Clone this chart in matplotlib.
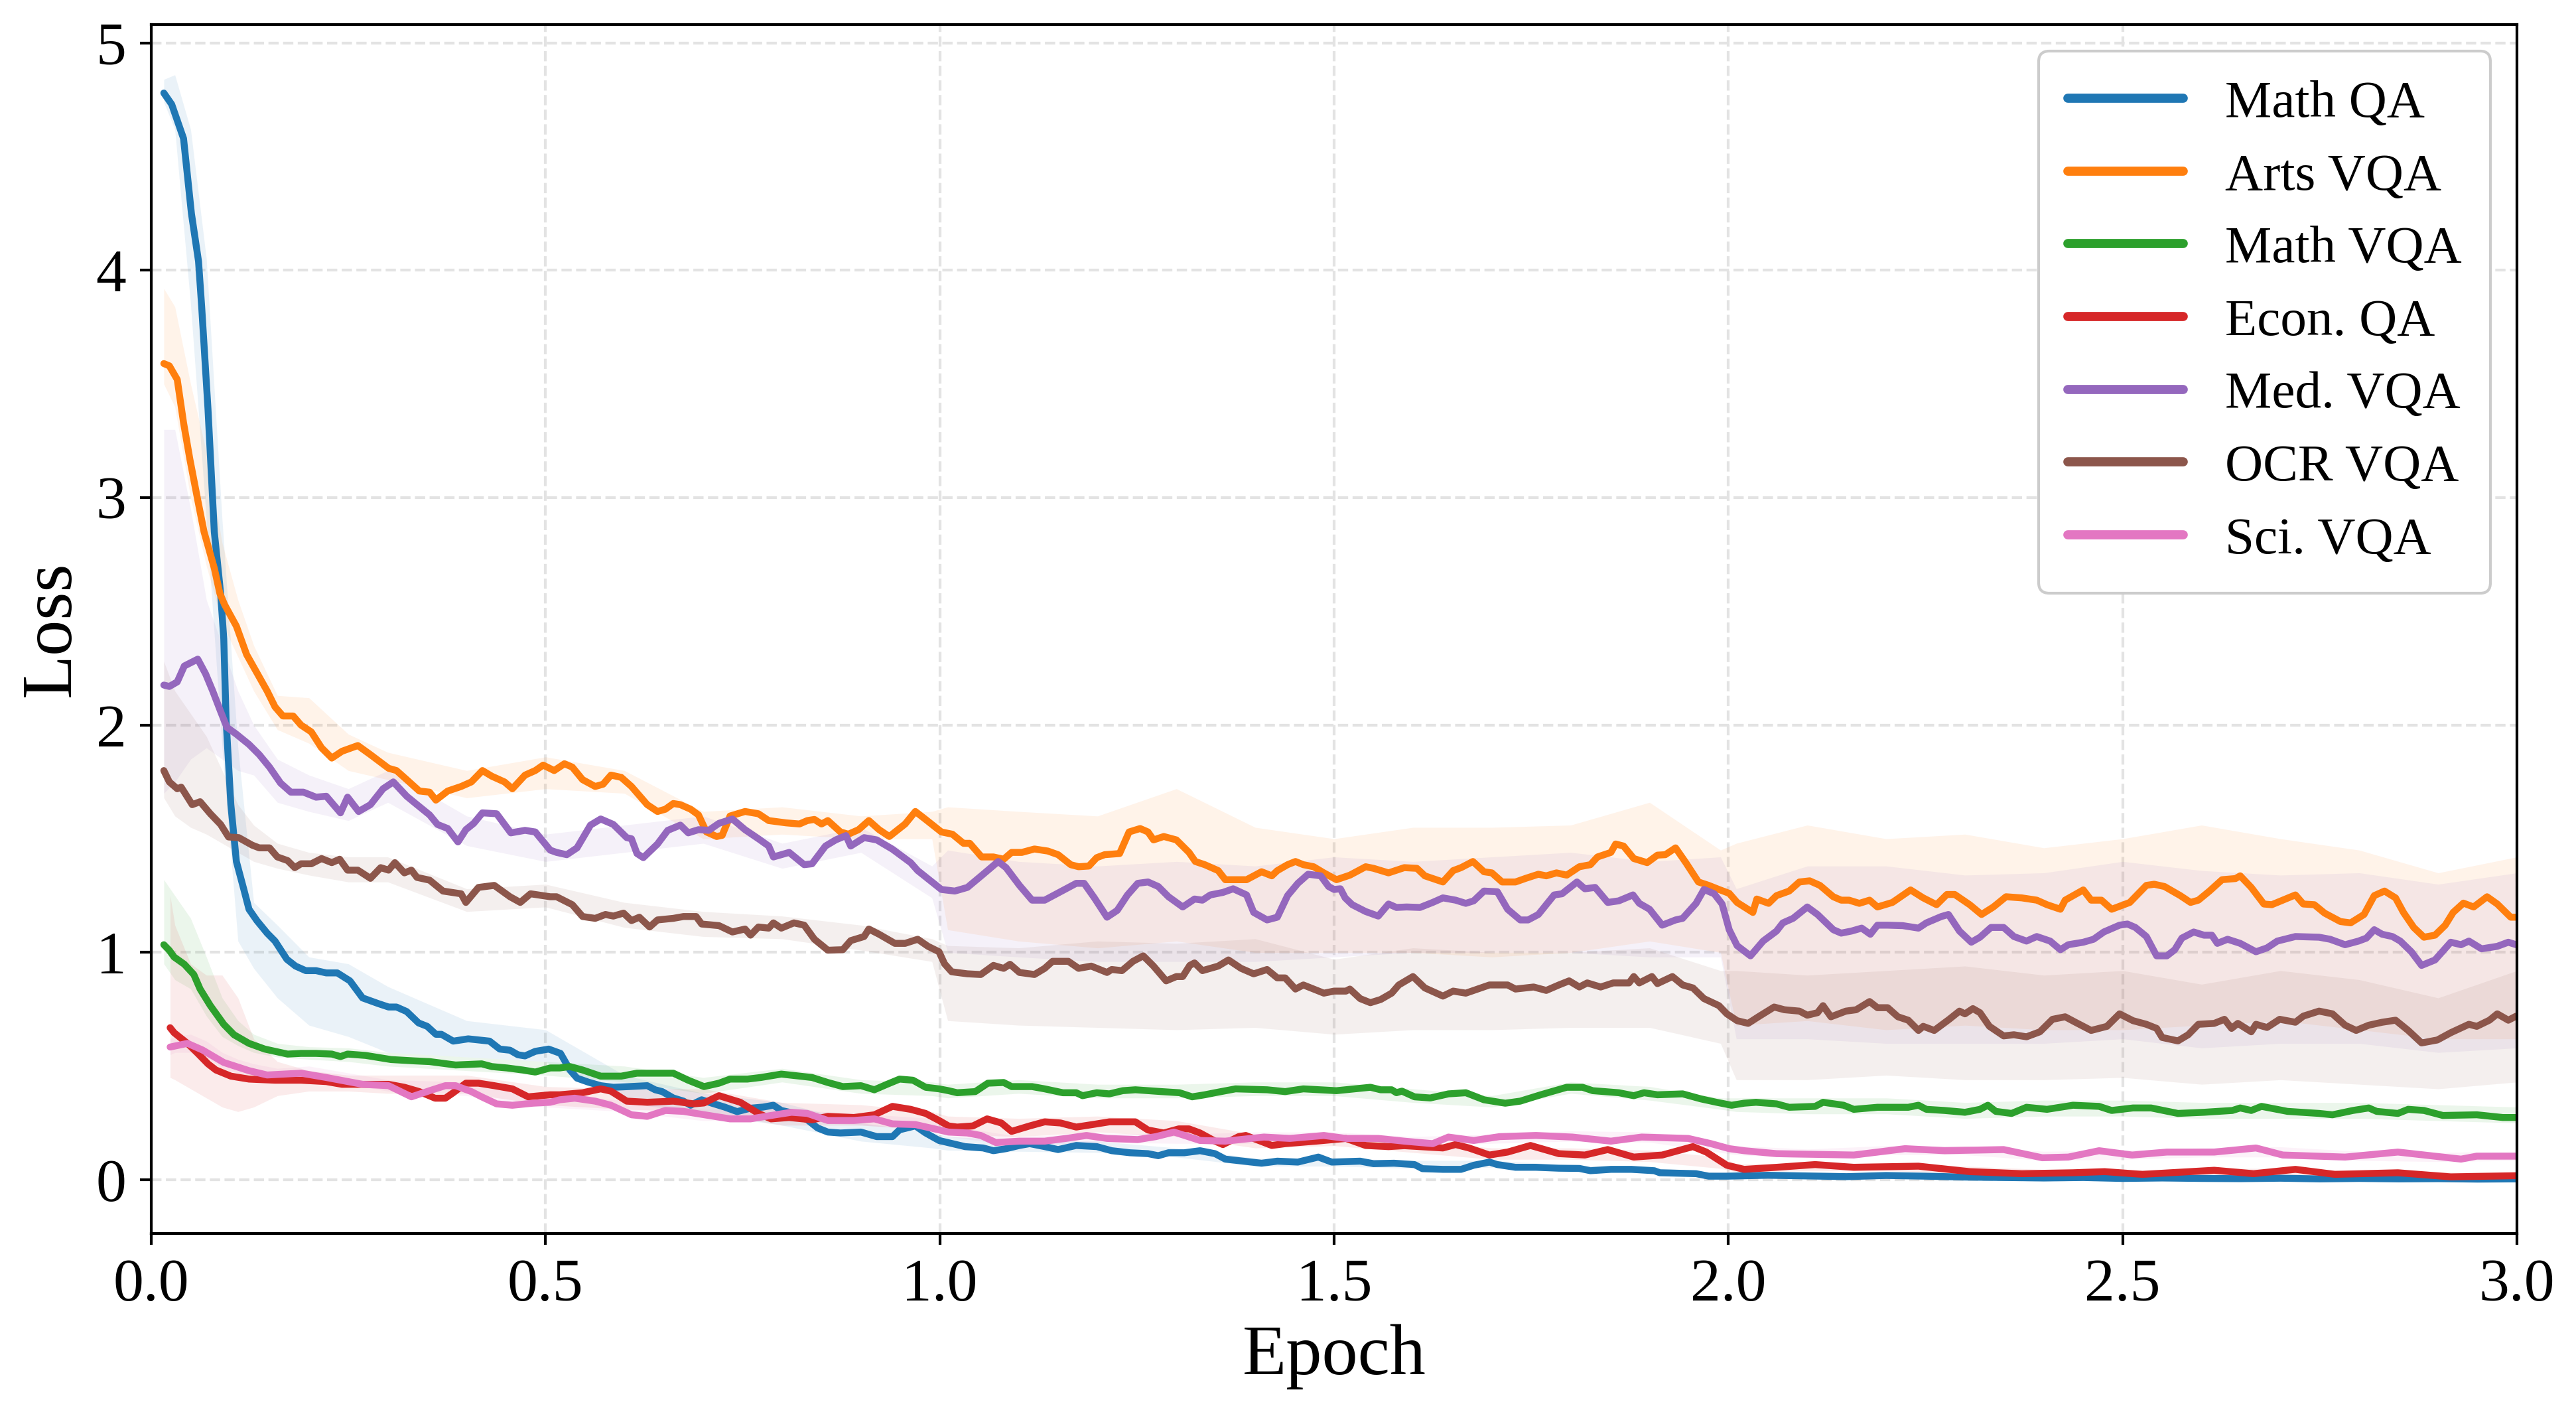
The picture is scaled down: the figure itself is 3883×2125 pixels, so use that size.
import matplotlib.pyplot as plt

plt.rcParams['font.family'] = 'serif'
plt.rcParams['font.serif'] = ['Liberation Serif', 'DejaVu Serif']

# (epoch, loss) points
math_qa = [(0.016, 4.78), (0.026, 4.73), (0.041, 4.58), (0.051, 4.25), (0.060, 4.04), (0.064, 3.84), (0.072, 3.39),
           (0.080, 2.85), (0.088, 2.58), (0.092, 2.38), (0.095, 2.02), (0.101, 1.65), (0.108, 1.40), (0.118, 1.27),
           (0.124, 1.19), (0.134, 1.14), (0.147, 1.085), (0.157, 1.05), (0.172, 0.97), (0.183, 0.94), (0.196, 0.92),
           (0.209, 0.92), (0.222, 0.91), (0.236, 0.91), (0.252, 0.875), (0.268, 0.80), (0.288, 0.775), (0.301, 0.76),
           (0.311, 0.76), (0.324, 0.74), (0.339, 0.69), (0.350, 0.675), (0.361, 0.64), (0.368, 0.64), (0.383, 0.61),
           (0.402, 0.62), (0.429, 0.61), (0.442, 0.575), (0.455, 0.57), (0.465, 0.55), (0.474, 0.545), (0.487, 0.565),
           (0.504, 0.575), (0.519, 0.556), (0.531, 0.483), (0.540, 0.447), (0.554, 0.43), (0.570, 0.414),
           (0.586, 0.407), (0.606, 0.41), (0.629, 0.414), (0.639, 0.396), (0.648, 0.388), (0.662, 0.36),
           (0.675, 0.346), (0.684, 0.328), (0.698, 0.352), (0.711, 0.337), (0.727, 0.32), (0.743, 0.30),
           (0.760, 0.315), (0.776, 0.32), (0.789, 0.328), (0.799, 0.305), (0.812, 0.295), (0.832, 0.264),
           (0.845, 0.228), (0.858, 0.21), (0.874, 0.206), (0.900, 0.21), (0.920, 0.19), (0.940, 0.19), (0.949, 0.22),
           (0.969, 0.237), (0.982, 0.206), (0.999, 0.173), (1.016, 0.159), (1.032, 0.146), (1.055, 0.14),
           (1.068, 0.128), (1.084, 0.137), (1.101, 0.151), (1.114, 0.159), (1.133, 0.146), (1.150, 0.133),
           (1.173, 0.151), (1.199, 0.146), (1.218, 0.128), (1.241, 0.119), (1.264, 0.115), (1.277, 0.106),
           (1.290, 0.119), (1.310, 0.119), (1.330, 0.128), (1.349, 0.115), (1.362, 0.091), (1.385, 0.082),
           (1.408, 0.073), (1.428, 0.082), (1.454, 0.078), (1.480, 0.10), (1.497, 0.078), (1.533, 0.082),
           (1.550, 0.071), (1.576, 0.073), (1.602, 0.067), (1.612, 0.049), (1.638, 0.046), (1.661, 0.046),
           (1.677, 0.064), (1.697, 0.078), (1.707, 0.067), (1.730, 0.055), (1.756, 0.055), (1.785, 0.051),
           (1.811, 0.05), (1.825, 0.04), (1.851, 0.046), (1.877, 0.046), (1.906, 0.04), (1.913, 0.031),
           (1.959, 0.027), (1.975, 0.016), (1.998, 0.016), (2.05, 0.02), (2.1, 0.017), (2.15, 0.014), (2.2, 0.019),
           (2.25, 0.016), (2.3, 0.012), (2.35, 0.01), (2.4, 0.008), (2.45, 0.01), (2.5, 0.006), (2.55, 0.008),
           (2.6, 0.006), (2.65, 0.005), (2.7, 0.007), (2.75, 0.004), (2.8, 0.006), (2.85, 0.004), (2.9, 0.005),
           (2.95, 0.003), (3.0, 0.004)]

arts_vqa = [(0.016, 3.59), (0.023, 3.58), (0.033, 3.52), (0.041, 3.33), (0.049, 3.17), (0.059, 2.99), (0.067, 2.85),
            (0.080, 2.69), (0.087, 2.58), (0.093, 2.53), (0.108, 2.435), (0.121, 2.31), (0.134, 2.23), (0.147, 2.15),
            (0.157, 2.08), (0.167, 2.04), (0.180, 2.04), (0.190, 2.0), (0.203, 1.97), (0.216, 1.90), (0.229, 1.855),
            (0.242, 1.885), (0.262, 1.91), (0.278, 1.87), (0.301, 1.81), (0.311, 1.80), (0.324, 1.76), (0.340, 1.71),
            (0.353, 1.705), (0.361, 1.67), (0.376, 1.71), (0.393, 1.73), (0.406, 1.75), (0.420, 1.80),
            (0.432, 1.775), (0.448, 1.75), (0.458, 1.72), (0.474, 1.78), (0.487, 1.80), (0.497, 1.824),
            (0.511, 1.80), (0.524, 1.83), (0.534, 1.815), (0.547, 1.76), (0.563, 1.73), (0.573, 1.74), (0.583, 1.78),
            (0.596, 1.77), (0.609, 1.73), (0.629, 1.65), (0.642, 1.62), (0.652, 1.63), (0.662, 1.655), (0.671, 1.65),
            (0.684, 1.63), (0.694, 1.605), (0.704, 1.53), (0.717, 1.51), (0.724, 1.515), (0.734, 1.60), (0.753, 1.62),
            (0.770, 1.61), (0.783, 1.58), (0.805, 1.57), (0.822, 1.565), (0.832, 1.58), (0.841, 1.585),
            (0.850, 1.565), (0.858, 1.58), (0.874, 1.53), (0.884, 1.52), (0.897, 1.54), (0.910, 1.58), (0.923, 1.54),
            (0.936, 1.51), (0.956, 1.565), (0.969, 1.62), (0.982, 1.585), (1.002, 1.53), (1.016, 1.52),
            (1.030, 1.48), (1.038, 1.48), (1.053, 1.42), (1.068, 1.42), (1.081, 1.41), (1.091, 1.44), (1.104, 1.44),
            (1.120, 1.455), (1.137, 1.446), (1.150, 1.43), (1.166, 1.386), (1.176, 1.377), (1.189, 1.38),
            (1.199, 1.417), (1.209, 1.43), (1.228, 1.435), (1.240, 1.53), (1.254, 1.545), (1.264, 1.53),
            (1.271, 1.495), (1.284, 1.51), (1.300, 1.495), (1.316, 1.44), (1.324, 1.40), (1.336, 1.386),
            (1.353, 1.36), (1.362, 1.32), (1.389, 1.32), (1.408, 1.355), (1.421, 1.337), (1.428, 1.36),
            (1.441, 1.386), (1.451, 1.40), (1.461, 1.386), (1.474, 1.377), (1.487, 1.35), (1.503, 1.32),
            (1.520, 1.34), (1.540, 1.377), (1.550, 1.37), (1.569, 1.35), (1.589, 1.373), (1.605, 1.37),
            (1.615, 1.337), (1.638, 1.31), (1.651, 1.36), (1.661, 1.373), (1.676, 1.40), (1.690, 1.355),
            (1.700, 1.35), (1.713, 1.31), (1.730, 1.31), (1.743, 1.326), (1.759, 1.344), (1.769, 1.337),
            (1.782, 1.35), (1.795, 1.34), (1.811, 1.377), (1.825, 1.386), (1.834, 1.42), (1.851, 1.44),
            (1.857, 1.477), (1.867, 1.468), (1.880, 1.413), (1.897, 1.395), (1.910, 1.428), (1.920, 1.43),
            (1.933, 1.46), (1.946, 1.395), (1.962, 1.31), (1.975, 1.295), (1.988, 1.277), (2.001, 1.26),
            (2.011, 1.22), (2.031, 1.176), (2.036, 1.235), (2.051, 1.216), (2.061, 1.25), (2.077, 1.27),
            (2.090, 1.31), (2.103, 1.315), (2.116, 1.295), (2.133, 1.245), (2.143, 1.23), (2.153, 1.23),
            (2.166, 1.216), (2.179, 1.23), (2.189, 1.20), (2.208, 1.22), (2.231, 1.275), (2.247, 1.24),
            (2.264, 1.21), (2.277, 1.255), (2.287, 1.255), (2.306, 1.21), (2.321, 1.167), (2.336, 1.20),
            (2.352, 1.245), (2.372, 1.24), (2.391, 1.23), (2.404, 1.21), (2.421, 1.19), (2.427, 1.23),
            (2.450, 1.275), (2.460, 1.23), (2.473, 1.23), (2.486, 1.19), (2.509, 1.22), (2.530, 1.295),
            (2.540, 1.30), (2.553, 1.29), (2.573, 1.25), (2.586, 1.22), (2.596, 1.23), (2.610, 1.27), (2.626, 1.32),
            (2.643, 1.325), (2.649, 1.337), (2.663, 1.286), (2.679, 1.213), (2.689, 1.21), (2.703, 1.23),
            (2.719, 1.253), (2.729, 1.213), (2.743, 1.21), (2.756, 1.173), (2.776, 1.136), (2.789, 1.13),
            (2.806, 1.167), (2.819, 1.25), (2.832, 1.27), (2.846, 1.24), (2.856, 1.176), (2.869, 1.11),
            (2.882, 1.067), (2.896, 1.076), (2.909, 1.12), (2.919, 1.176), (2.932, 1.217), (2.945, 1.20),
            (2.962, 1.245), (2.975, 1.213), (2.992, 1.155), (2.999, 1.155)]

math_vqa = [(0.016, 1.034), (0.023, 1.009), (0.029, 0.98), (0.042, 0.948), (0.054, 0.903), (0.062, 0.839),
            (0.075, 0.766), (0.092, 0.684), (0.105, 0.638), (0.124, 0.60), (0.144, 0.575), (0.157, 0.565),
            (0.173, 0.553), (0.190, 0.556), (0.209, 0.556), (0.229, 0.553), (0.240, 0.542), (0.249, 0.553),
            (0.272, 0.547), (0.288, 0.538), (0.304, 0.529), (0.334, 0.523), (0.353, 0.52), (0.386, 0.505),
            (0.419, 0.51), (0.432, 0.498), (0.451, 0.492), (0.471, 0.483), (0.487, 0.474), (0.506, 0.492),
            (0.518, 0.492), (0.531, 0.498), (0.547, 0.483), (0.570, 0.456), (0.596, 0.456), (0.616, 0.469),
            (0.635, 0.469), (0.662, 0.469), (0.681, 0.438), (0.701, 0.41), (0.720, 0.425), (0.734, 0.443),
            (0.756, 0.443), (0.773, 0.45), (0.799, 0.465), (0.838, 0.45), (0.858, 0.428), (0.877, 0.41),
            (0.900, 0.414), (0.917, 0.396), (0.933, 0.42), (0.949, 0.443), (0.966, 0.438), (0.982, 0.407),
            (0.999, 0.40), (1.011, 0.392), (1.022, 0.383), (1.045, 0.388), (1.061, 0.425), (1.081, 0.428),
            (1.091, 0.41), (1.117, 0.41), (1.133, 0.40), (1.156, 0.383), (1.173, 0.383), (1.181, 0.37),
            (1.199, 0.383), (1.215, 0.378), (1.232, 0.392), (1.248, 0.396), (1.281, 0.388), (1.304, 0.383),
            (1.320, 0.365), (1.336, 0.374), (1.349, 0.383), (1.375, 0.40), (1.415, 0.396), (1.438, 0.388),
            (1.461, 0.40), (1.503, 0.392), (1.546, 0.407), (1.559, 0.396), (1.573, 0.396), (1.579, 0.383),
            (1.586, 0.39), (1.602, 0.365), (1.622, 0.36), (1.645, 0.378), (1.667, 0.383), (1.690, 0.352),
            (1.717, 0.337), (1.736, 0.346), (1.762, 0.374), (1.795, 0.407), (1.815, 0.407), (1.828, 0.392),
            (1.861, 0.383), (1.880, 0.37), (1.893, 0.383), (1.910, 0.374), (1.942, 0.378), (1.965, 0.356),
            (1.985, 0.341), (2.004, 0.328), (2.020, 0.337), (2.035, 0.341), (2.061, 0.334), (2.077, 0.319),
            (2.110, 0.323), (2.120, 0.341), (2.146, 0.328), (2.159, 0.31), (2.189, 0.319), (2.228, 0.319),
            (2.241, 0.328), (2.251, 0.31), (2.274, 0.305), (2.300, 0.297), (2.319, 0.31), (2.329, 0.328),
            (2.339, 0.301), (2.359, 0.292), (2.378, 0.319), (2.404, 0.31), (2.437, 0.328), (2.470, 0.323),
            (2.486, 0.305), (2.513, 0.316), (2.536, 0.316), (2.570, 0.292), (2.603, 0.297), (2.639, 0.305),
            (2.649, 0.316), (2.663, 0.305), (2.676, 0.323), (2.709, 0.301), (2.749, 0.292), (2.766, 0.286),
            (2.792, 0.305), (2.812, 0.316), (2.822, 0.301), (2.849, 0.292), (2.862, 0.31), (2.882, 0.305),
            (2.906, 0.283), (2.949, 0.286), (2.982, 0.274), (2.999, 0.274)]

econ_qa = [(0.024, 0.669), (0.029, 0.647), (0.046, 0.60), (0.059, 0.556), (0.072, 0.51), (0.082, 0.483),
           (0.101, 0.456), (0.124, 0.443), (0.157, 0.438), (0.190, 0.438), (0.222, 0.432), (0.242, 0.42),
           (0.272, 0.42), (0.301, 0.42), (0.321, 0.407), (0.340, 0.388), (0.360, 0.359), (0.373, 0.359),
           (0.383, 0.383), (0.399, 0.425), (0.415, 0.425), (0.435, 0.414), (0.458, 0.40), (0.478, 0.365),
           (0.506, 0.374), (0.518, 0.374), (0.547, 0.383), (0.570, 0.40), (0.583, 0.39), (0.603, 0.346),
           (0.629, 0.341), (0.662, 0.346), (0.688, 0.334), (0.701, 0.338), (0.720, 0.37), (0.747, 0.341),
           (0.770, 0.292), (0.786, 0.268), (0.809, 0.274), (0.838, 0.264), (0.858, 0.279), (0.891, 0.274),
           (0.917, 0.286), (0.940, 0.323), (0.963, 0.31), (0.982, 0.292), (0.999, 0.261), (1.011, 0.237),
           (1.022, 0.232), (1.042, 0.237), (1.060, 0.268), (1.078, 0.25), (1.091, 0.213), (1.114, 0.237),
           (1.133, 0.255), (1.153, 0.25), (1.173, 0.232), (1.199, 0.246), (1.215, 0.255), (1.248, 0.255),
           (1.264, 0.219), (1.284, 0.206), (1.303, 0.224), (1.316, 0.224), (1.330, 0.206), (1.349, 0.17),
           (1.359, 0.155), (1.379, 0.19), (1.388, 0.195), (1.421, 0.151), (1.438, 0.159), (1.477, 0.17),
           (1.515, 0.182), (1.540, 0.151), (1.569, 0.146), (1.589, 0.15), (1.638, 0.14), (1.654, 0.155),
           (1.671, 0.14), (1.697, 0.109), (1.720, 0.122), (1.749, 0.151), (1.785, 0.115), (1.818, 0.109),
           (1.847, 0.133), (1.880, 0.10), (1.916, 0.109), (1.955, 0.146), (1.972, 0.122), (1.998, 0.064),
           (2.020, 0.046), (2.061, 0.055), (2.110, 0.067), (2.159, 0.055), (2.241, 0.06), (2.306, 0.036),
           (2.372, 0.027), (2.437, 0.031), (2.477, 0.036), (2.525, 0.024), (2.616, 0.042), (2.666, 0.027),
           (2.719, 0.046), (2.769, 0.024), (2.849, 0.031), (2.916, 0.013), (2.999, 0.018)]

med_vqa = [(0.016, 2.176), (0.023, 2.17), (0.033, 2.19), (0.042, 2.26), (0.059, 2.29), (0.069, 2.225), (0.078, 2.15),
           (0.088, 2.06), (0.096, 1.99), (0.108, 1.96), (0.124, 1.915), (0.137, 1.87), (0.150, 1.815),
           (0.164, 1.745), (0.177, 1.705), (0.193, 1.705), (0.209, 1.683), (0.222, 1.687), (0.240, 1.614),
           (0.249, 1.683), (0.263, 1.62), (0.278, 1.65), (0.294, 1.72), (0.307, 1.75), (0.324, 1.687),
           (0.337, 1.65), (0.353, 1.605), (0.363, 1.563), (0.376, 1.545), (0.389, 1.486), (0.399, 1.54),
           (0.409, 1.568), (0.420, 1.614), (0.438, 1.61), (0.456, 1.526), (0.474, 1.537), (0.487, 1.53),
           (0.506, 1.45), (0.514, 1.44), (0.527, 1.43), (0.540, 1.46), (0.557, 1.56), (0.570, 1.587),
           (0.586, 1.563), (0.603, 1.505), (0.609, 1.50), (0.616, 1.435), (0.624, 1.417), (0.642, 1.477),
           (0.655, 1.537), (0.671, 1.56), (0.681, 1.526), (0.694, 1.54), (0.707, 1.537), (0.720, 1.568),
           (0.737, 1.587), (0.753, 1.54), (0.770, 1.50), (0.783, 1.468), (0.789, 1.42), (0.809, 1.44),
           (0.828, 1.386), (0.838, 1.39), (0.855, 1.468), (0.868, 1.495), (0.881, 1.514), (0.887, 1.468),
           (0.904, 1.505), (0.920, 1.495), (0.940, 1.454), (0.963, 1.395), (0.972, 1.36), (0.989, 1.313),
           (1.002, 1.277), (1.019, 1.27), (1.035, 1.286), (1.055, 1.344), (1.074, 1.40), (1.084, 1.373),
           (1.101, 1.295), (1.117, 1.23), (1.133, 1.23), (1.153, 1.267), (1.173, 1.304), (1.183, 1.304),
           (1.196, 1.24), (1.212, 1.155), (1.225, 1.185), (1.238, 1.253), (1.251, 1.304), (1.264, 1.31),
           (1.277, 1.29), (1.290, 1.245), (1.308, 1.20), (1.323, 1.235), (1.333, 1.23), (1.343, 1.253),
           (1.359, 1.264), (1.372, 1.28), (1.389, 1.253), (1.398, 1.176), (1.415, 1.143), (1.428, 1.155),
           (1.441, 1.25), (1.454, 1.304), (1.467, 1.344), (1.483, 1.337), (1.493, 1.29), (1.500, 1.277),
           (1.508, 1.28), (1.514, 1.24), (1.523, 1.21), (1.540, 1.18), (1.556, 1.16), (1.569, 1.213),
           (1.579, 1.198), (1.592, 1.20), (1.609, 1.198), (1.625, 1.22), (1.638, 1.24), (1.654, 1.23),
           (1.667, 1.216), (1.677, 1.227), (1.690, 1.27), (1.707, 1.267), (1.720, 1.19), (1.736, 1.143),
           (1.746, 1.143), (1.759, 1.167), (1.779, 1.253), (1.789, 1.258), (1.808, 1.31), (1.818, 1.28),
           (1.831, 1.286), (1.847, 1.22), (1.861, 1.227), (1.879, 1.253), (1.887, 1.216), (1.900, 1.19),
           (1.916, 1.12), (1.933, 1.143), (1.942, 1.15), (1.959, 1.216), (1.969, 1.277), (1.982, 1.258),
           (1.992, 1.213), (2.001, 1.10), (2.011, 1.03), (2.028, 0.985), (2.044, 1.05), (2.061, 1.094),
           (2.069, 1.13), (2.082, 1.15), (2.100, 1.20), (2.113, 1.167), (2.133, 1.10), (2.143, 1.085),
           (2.156, 1.094), (2.169, 1.107), (2.180, 1.08), (2.189, 1.12), (2.202, 1.12), (2.221, 1.118),
           (2.241, 1.107), (2.251, 1.13), (2.270, 1.158), (2.279, 1.167), (2.293, 1.094), (2.308, 1.045),
           (2.319, 1.067), (2.333, 1.11), (2.349, 1.11), (2.362, 1.07), (2.378, 1.05), (2.391, 1.07),
           (2.408, 1.05), (2.421, 1.012), (2.431, 1.034), (2.450, 1.045), (2.463, 1.058), (2.476, 1.09),
           (2.496, 1.12), (2.506, 1.125), (2.516, 1.11), (2.530, 1.07), (2.543, 0.985), (2.556, 0.985),
           (2.566, 1.012), (2.575, 1.063), (2.590, 1.09), (2.603, 1.076), (2.613, 1.076), (2.620, 1.04),
           (2.633, 1.058), (2.649, 1.04), (2.669, 1.003), (2.683, 1.02), (2.696, 1.05), (2.719, 1.07),
           (2.749, 1.067), (2.763, 1.058), (2.782, 1.034), (2.799, 1.05), (2.809, 1.063), (2.819, 1.10),
           (2.829, 1.08), (2.842, 1.07), (2.852, 1.05), (2.866, 1.003), (2.879, 0.943), (2.896, 0.967),
           (2.916, 1.045), (2.929, 1.034), (2.939, 1.05), (2.955, 1.016), (2.975, 1.027), (2.989, 1.045),
           (2.999, 1.034)]

ocr_vqa = [(0.016, 1.80), (0.023, 1.75), (0.033, 1.72), (0.038, 1.727), (0.052, 1.65), (0.062, 1.663), (0.075, 1.61),
           (0.088, 1.563), (0.098, 1.508), (0.111, 1.505), (0.128, 1.472), (0.137, 1.46), (0.150, 1.46),
           (0.160, 1.42), (0.173, 1.404), (0.182, 1.373), (0.190, 1.39), (0.203, 1.39), (0.216, 1.413),
           (0.229, 1.395), (0.239, 1.41), (0.249, 1.362), (0.262, 1.362), (0.278, 1.326), (0.291, 1.373),
           (0.301, 1.362), (0.309, 1.395), (0.321, 1.35), (0.330, 1.362), (0.337, 1.33), (0.353, 1.318),
           (0.370, 1.27), (0.393, 1.258), (0.399, 1.22), (0.415, 1.286), (0.435, 1.295), (0.455, 1.245),
           (0.468, 1.22), (0.481, 1.258), (0.506, 1.245), (0.514, 1.245), (0.534, 1.21), (0.547, 1.158),
           (0.563, 1.15), (0.576, 1.167), (0.586, 1.16), (0.599, 1.173), (0.609, 1.14), (0.619, 1.155),
           (0.632, 1.112), (0.642, 1.143), (0.662, 1.15), (0.675, 1.158), (0.691, 1.158), (0.698, 1.125),
           (0.720, 1.118), (0.737, 1.09), (0.753, 1.103), (0.760, 1.076), (0.770, 1.112), (0.783, 1.107),
           (0.789, 1.13), (0.799, 1.107), (0.815, 1.13), (0.828, 1.12), (0.841, 1.058), (0.858, 1.01),
           (0.877, 1.012), (0.887, 1.052), (0.904, 1.07), (0.910, 1.103), (0.923, 1.08), (0.943, 1.04),
           (0.956, 1.04), (0.972, 1.058), (0.985, 1.027), (0.999, 1.003), (1.006, 0.95), (1.015, 0.915),
           (1.035, 0.906), (1.052, 0.903), (1.068, 0.943), (1.081, 0.93), (1.089, 0.948), (1.101, 0.912),
           (1.120, 0.903), (1.133, 0.93), (1.143, 0.961), (1.163, 0.961), (1.176, 0.93), (1.192, 0.94),
           (1.212, 0.912), (1.218, 0.925), (1.231, 0.92), (1.245, 0.961), (1.258, 0.985), (1.271, 0.94),
           (1.287, 0.875), (1.300, 0.894), (1.308, 0.894), (1.317, 0.943), (1.323, 0.954), (1.333, 0.92),
           (1.353, 0.94), (1.366, 0.967), (1.382, 0.93), (1.398, 0.906), (1.415, 0.925), (1.428, 0.888),
           (1.438, 0.888), (1.451, 0.839), (1.461, 0.857), (1.474, 0.839), (1.487, 0.821), (1.500, 0.83),
           (1.515, 0.83), (1.520, 0.839), (1.533, 0.797), (1.546, 0.779), (1.559, 0.793), (1.573, 0.821),
           (1.582, 0.857), (1.600, 0.894), (1.615, 0.844), (1.638, 0.808), (1.651, 0.83), (1.667, 0.821),
           (1.677, 0.833), (1.697, 0.857), (1.720, 0.857), (1.730, 0.839), (1.753, 0.848), (1.769, 0.833),
           (1.785, 0.857), (1.798, 0.875), (1.811, 0.848), (1.821, 0.866), (1.838, 0.848), (1.854, 0.866),
           (1.874, 0.866), (1.880, 0.894), (1.887, 0.866), (1.903, 0.894), (1.910, 0.863), (1.929, 0.894),
           (1.942, 0.857), (1.955, 0.844), (1.969, 0.797), (1.988, 0.766), (1.998, 0.73), (2.011, 0.70),
           (2.025, 0.688), (2.038, 0.717), (2.058, 0.76), (2.071, 0.748), (2.090, 0.742), (2.100, 0.724),
           (2.113, 0.735), (2.120, 0.766), (2.130, 0.717), (2.149, 0.742), (2.162, 0.748), (2.179, 0.784),
           (2.189, 0.757), (2.202, 0.757), (2.215, 0.717), (2.228, 0.702), (2.241, 0.657), (2.247, 0.675),
           (2.261, 0.657), (2.280, 0.706), (2.293, 0.742), (2.300, 0.73), (2.310, 0.753), (2.319, 0.735),
           (2.331, 0.675), (2.349, 0.633), (2.362, 0.638), (2.378, 0.629), (2.395, 0.651), (2.411, 0.706),
           (2.427, 0.717), (2.440, 0.693), (2.460, 0.657), (2.480, 0.675), (2.496, 0.73), (2.513, 0.70),
           (2.530, 0.684), (2.543, 0.666), (2.550, 0.626), (2.570, 0.611), (2.583, 0.638), (2.596, 0.684),
           (2.616, 0.688), (2.629, 0.706), (2.638, 0.666), (2.646, 0.688), (2.663, 0.651), (2.669, 0.684),
           (2.683, 0.67), (2.699, 0.706), (2.719, 0.693), (2.729, 0.72), (2.749, 0.742), (2.766, 0.73),
           (2.782, 0.68), (2.796, 0.657), (2.812, 0.68), (2.829, 0.693), (2.846, 0.702), (2.862, 0.657),
           (2.879, 0.602), (2.899, 0.615), (2.916, 0.647), (2.939, 0.684), (2.949, 0.675), (2.965, 0.702),
           (2.975, 0.73), (2.989, 0.702), (2.999, 0.72)]

sci_vqa = [(0.024, 0.584), (0.046, 0.60), (0.065, 0.571), (0.092, 0.516), (0.124, 0.48), (0.147, 0.461),
           (0.190, 0.469), (0.222, 0.45), (0.268, 0.42), (0.301, 0.414), (0.330, 0.365), (0.353, 0.392),
           (0.373, 0.414), (0.386, 0.414), (0.406, 0.388), (0.419, 0.365), (0.438, 0.334), (0.458, 0.328),
           (0.484, 0.337), (0.506, 0.341), (0.518, 0.352), (0.537, 0.359), (0.563, 0.346), (0.583, 0.328),
           (0.609, 0.286), (0.629, 0.279), (0.652, 0.305), (0.675, 0.301), (0.707, 0.283), (0.734, 0.268),
           (0.760, 0.268), (0.786, 0.283), (0.812, 0.297), (0.832, 0.292), (0.858, 0.261), (0.891, 0.261),
           (0.917, 0.268), (0.940, 0.246), (0.969, 0.243), (1.011, 0.21), (1.035, 0.206), (1.052, 0.195),
           (1.071, 0.164), (1.101, 0.17), (1.133, 0.17), (1.160, 0.182), (1.186, 0.195), (1.212, 0.182),
           (1.251, 0.177), (1.274, 0.19), (1.297, 0.21), (1.330, 0.173), (1.362, 0.17), (1.411, 0.188),
           (1.444, 0.182), (1.487, 0.195), (1.515, 0.182), (1.556, 0.182), (1.589, 0.17), (1.625, 0.159),
           (1.645, 0.188), (1.677, 0.173), (1.710, 0.19), (1.756, 0.195), (1.802, 0.188), (1.851, 0.17),
           (1.890, 0.188), (1.949, 0.182), (1.978, 0.159), (2.001, 0.137), (2.020, 0.128), (2.061, 0.115),
           (2.159, 0.109), (2.224, 0.137), (2.274, 0.128), (2.349, 0.133), (2.398, 0.097), (2.431, 0.10),
           (2.470, 0.128), (2.512, 0.109), (2.556, 0.122), (2.616, 0.122), (2.669, 0.14), (2.703, 0.109),
           (2.782, 0.10), (2.849, 0.122), (2.929, 0.091), (2.949, 0.104), (2.999, 0.104)]

# shaded spread (lower / upper edge) at these epochs
band_epoch = [0.016, 0.03, 0.05, 0.07, 0.09, 0.11, 0.13, 0.16, 0.2, 0.25, 0.3, 0.4, 0.5, 0.6, 0.7, 0.8, 0.9, 0.99,
              1.01, 1.1, 1.2, 1.3, 1.4, 1.5, 1.6, 1.7, 1.8, 1.9, 1.99, 2.01, 2.1, 2.2, 2.3, 2.4, 2.5, 2.6, 2.7,
              2.8, 2.9, 3.0]
band_epoch_late = [0.024] + band_epoch[1:]

math_qa_lo = [4.74, 4.62, 3.85, 2.9, 1.9, 1.05, 0.93, 0.80, 0.68, 0.63, 0.56, 0.54, 0.52, 0.34, 0.29, 0.24, 0.17,
              0.14, 0.13, 0.125, 0.12, 0.10, 0.06, 0.06, 0.05, 0.055, 0.04, 0.03, 0.008, 0.01, 0.005, 0.004,
              0.003, 0, 0, 0, 0, 0, 0, 0]
math_qa_hi = [4.84, 4.86, 4.62, 4.05, 2.9, 1.9, 1.22, 1.12, 0.98, 0.95, 0.85, 0.70, 0.66, 0.46, 0.38, 0.34, 0.25,
              0.21, 0.19, 0.175, 0.17, 0.14, 0.095, 0.095, 0.085, 0.085, 0.065, 0.055, 0.03, 0.028, 0.025, 0.022,
              0.02, 0.018, 0.015, 0.014, 0.014, 0.012, 0.012, 0.012]
arts_vqa_lo = [3.50, 3.40, 3.0, 2.7, 2.45, 2.3, 2.15, 1.98, 1.92, 1.80, 1.76, 1.68, 1.72, 1.70, 1.50, 1.52, 1.50,
               1.50, 1.10, 1.05, 1.02, 1.05, 1.0, 1.0, 1.0, 0.98, 1.0, 1.05, 1.0, 0.68, 0.70, 0.66, 0.68, 0.66,
               0.66, 0.68, 0.70, 0.66, 0.62, 0.62]
arts_vqa_hi = [3.92, 3.84, 3.5, 3.2, 2.8, 2.55, 2.35, 2.13, 2.12, 1.96, 1.88, 1.80, 1.86, 1.80, 1.62, 1.64, 1.60,
               1.62, 1.64, 1.62, 1.60, 1.72, 1.55, 1.50, 1.55, 1.55, 1.56, 1.66, 1.45, 1.48, 1.56, 1.50, 1.52, 1.46,
               1.50, 1.56, 1.50, 1.45, 1.35, 1.42]
math_vqa_lo = [0.95, 0.88, 0.84, 0.72, 0.63, 0.59, 0.56, 0.54, 0.53, 0.52, 0.50, 0.48, 0.46, 0.43, 0.38, 0.43,
               0.38, 0.37, 0.36, 0.38, 0.36, 0.36, 0.37, 0.37, 0.34, 0.32, 0.38, 0.35, 0.31, 0.30, 0.29, 0.29, 0.27,
               0.28, 0.28, 0.27, 0.27, 0.27, 0.26, 0.25]
math_vqa_hi = [1.32, 1.25, 1.15, 0.98, 0.80, 0.70, 0.64, 0.60, 0.585, 0.58, 0.56, 0.54, 0.52, 0.50, 0.45, 0.49,
               0.44, 0.43, 0.42, 0.44, 0.42, 0.42, 0.43, 0.43, 0.40, 0.37, 0.43, 0.41, 0.36, 0.36, 0.36, 0.36, 0.34,
               0.35, 0.35, 0.34, 0.34, 0.34, 0.33, 0.32]
econ_qa_lo = [0.45, 0.44, 0.40, 0.36, 0.32, 0.30, 0.32, 0.37, 0.39, 0.39, 0.38, 0.38, 0.33, 0.31, 0.30, 0.24, 0.24,
              0.22, 0.20, 0.19, 0.21, 0.19, 0.14, 0.15, 0.12, 0.09, 0.09, 0.08, 0.05, 0.035, 0.04, 0.04, 0.03,
              0.02, 0.015, 0.02, 0.02, 0.015, 0.01, 0.005]
econ_qa_hi = [1.25, 1.12, 0.95, 0.90, 0.90, 0.80, 0.62, 0.52, 0.48, 0.46, 0.46, 0.46, 0.41, 0.40, 0.40, 0.34, 0.33,
              0.30, 0.28, 0.27, 0.28, 0.26, 0.20, 0.20, 0.17, 0.14, 0.14, 0.13, 0.10, 0.07, 0.07, 0.075, 0.06,
              0.045, 0.04, 0.05, 0.05, 0.04, 0.035, 0.03]
med_vqa_lo = [1.70, 1.75, 1.85, 1.90, 1.85, 1.80, 1.78, 1.66, 1.62, 1.58, 1.66, 1.47, 1.40, 1.44, 1.48, 1.37, 1.44,
              1.24, 1.0, 0.98, 0.96, 0.96, 0.96, 0.98, 1.0, 1.0, 1.0, 0.98, 0.98, 0.62, 0.62, 0.60, 0.60, 0.60,
              0.62, 0.58, 0.60, 0.60, 0.56, 0.58]
med_vqa_hi = [3.30, 3.30, 2.95, 2.55, 2.35, 2.15, 2.0, 1.85, 1.78, 1.72, 1.80, 1.60, 1.52, 1.56, 1.60, 1.48, 1.55,
              1.38, 1.45, 1.40, 1.38, 1.40, 1.38, 1.42, 1.40, 1.42, 1.44, 1.40, 1.42, 1.28, 1.38, 1.38, 1.34, 1.35,
              1.40, 1.36, 1.34, 1.35, 1.30, 1.35]
ocr_vqa_lo = [1.68, 1.60, 1.55, 1.52, 1.48, 1.44, 1.40, 1.37, 1.34, 1.31, 1.31, 1.18, 1.20, 1.11, 1.07, 1.06, 1.01,
              0.96, 0.70, 0.68, 0.67, 0.66, 0.67, 0.64, 0.66, 0.66, 0.67, 0.67, 0.60, 0.44, 0.44, 0.46, 0.44, 0.44,
              0.45, 0.42, 0.44, 0.42, 0.40, 0.43]
ocr_vqa_hi = [2.28, 2.15, 2.05, 1.95, 1.80, 1.65, 1.56, 1.48, 1.44, 1.42, 1.42, 1.28, 1.30, 1.22, 1.18, 1.16, 1.12,
              1.06, 1.03, 1.02, 1.05, 1.04, 1.06, 0.97, 1.02, 1.0, 1.0, 1.02, 0.92, 0.92, 0.90, 0.92, 0.94, 0.90,
              0.92, 0.86, 0.92, 0.88, 0.80, 0.92]
sci_vqa_lo = [0.55, 0.56, 0.56, 0.54, 0.49, 0.47, 0.45, 0.44, 0.44, 0.42, 0.39, 0.37, 0.32, 0.30, 0.26, 0.26, 0.24,
              0.22, 0.19, 0.15, 0.165, 0.16, 0.16, 0.165, 0.15, 0.16, 0.17, 0.165, 0.12, 0.11, 0.095, 0.11, 0.11,
              0.085, 0.09, 0.10, 0.10, 0.085, 0.08, 0.085]
sci_vqa_hi = [0.62, 0.63, 0.64, 0.61, 0.56, 0.53, 0.51, 0.49, 0.50, 0.47, 0.44, 0.43, 0.37, 0.35, 0.31, 0.31, 0.29,
              0.27, 0.24, 0.19, 0.205, 0.20, 0.21, 0.21, 0.19, 0.20, 0.215, 0.21, 0.16, 0.15, 0.135, 0.15, 0.15,
              0.125, 0.13, 0.14, 0.145, 0.125, 0.12, 0.125]

series = [
    ("Math QA", math_qa, band_epoch, math_qa_lo, math_qa_hi, "#1f77b4"),
    ("Arts VQA", arts_vqa, band_epoch, arts_vqa_lo, arts_vqa_hi, "#ff7f0e"),
    ("Math VQA", math_vqa, band_epoch, math_vqa_lo, math_vqa_hi, "#2ca02c"),
    ("Econ. QA", econ_qa, band_epoch_late, econ_qa_lo, econ_qa_hi, "#d62728"),
    ("Med. VQA", med_vqa, band_epoch, med_vqa_lo, med_vqa_hi, "#9467bd"),
    ("OCR VQA", ocr_vqa, band_epoch, ocr_vqa_lo, ocr_vqa_hi, "#8c564b"),
    ("Sci. VQA", sci_vqa, band_epoch_late, sci_vqa_lo, sci_vqa_hi, "#e377c2"),
]

fig, ax = plt.subplots(figsize=(3883 / 300, 2125 / 300), dpi=300)
fig.subplots_adjust(left=0.0587, right=0.9771, bottom=0.1252, top=0.9824)

for name, pts, be, lo, hi, color in series:
    ax.fill_between(be, lo, hi, color=color, alpha=0.09, linewidth=0, zorder=1)

for name, pts, be, lo, hi, color in series:
    x = [p[0] for p in pts]
    y = [p[1] for p in pts]
    ax.plot(x, y, color=color, lw=2.5, label=name, solid_capstyle='round', zorder=2)

ax.set_xlim(0, 3)
ax.set_ylim(-0.236, 5.08)
ax.set_xticks([0.0, 0.5, 1.0, 1.5, 2.0, 2.5, 3.0])
ax.set_yticks([0, 1, 2, 3, 4, 5])
ax.grid(True, linestyle='--', linewidth=1.0, color='#e3e3e3')
ax.set_axisbelow(True)
ax.tick_params(direction='out', length=4, width=1, labelsize=22, pad=5)
for s in ax.spines.values():
    s.set_linewidth(1.0)

ax.set_xlabel("Epoch", fontsize=26)
ax.set_ylabel("Loss", fontsize=26)

leg = ax.legend(loc='upper right', fontsize=19, handlelength=2.2, labelspacing=0.47, borderpad=0.55,
                handletextpad=0.8, fancybox=True, framealpha=1.0, edgecolor='#cccccc')
for line in leg.get_lines():
    line.set_linewidth(3.3)

plt.savefig("out.png", dpi=300)
